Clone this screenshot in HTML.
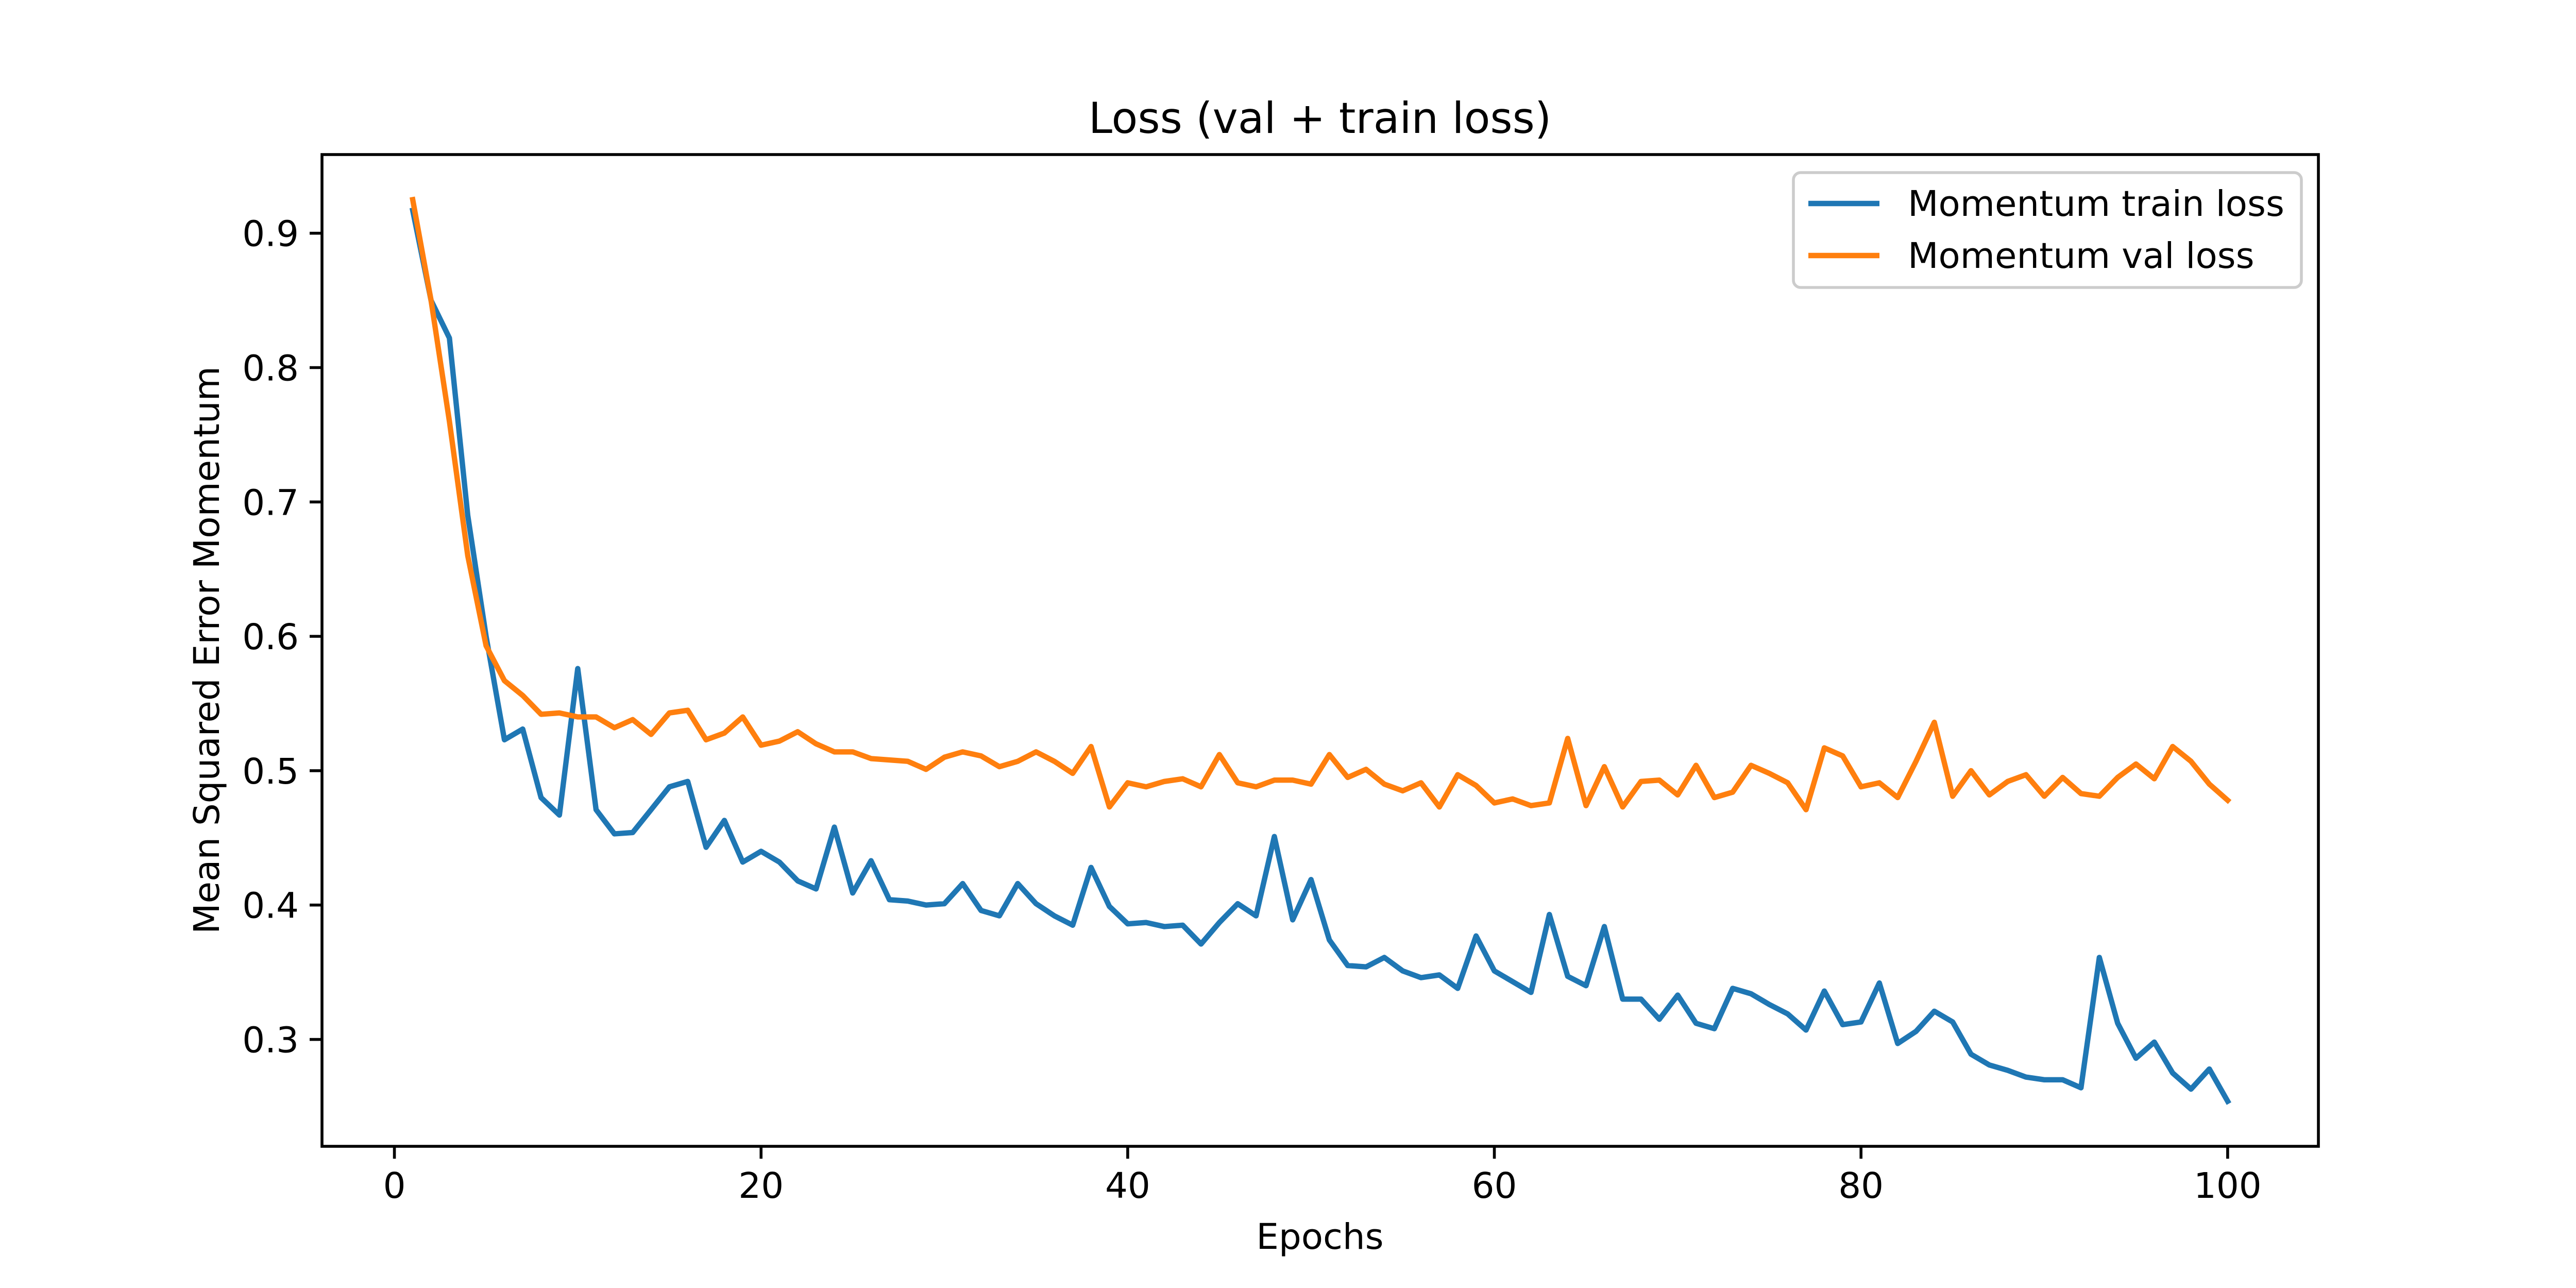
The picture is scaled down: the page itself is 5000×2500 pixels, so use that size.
<!DOCTYPE html>
<html><head><meta charset="utf-8"><style>
html,body{margin:0;padding:0;background:#fff}
svg{display:block;font-family:"DejaVu Sans","Liberation Sans",sans-serif}
</style></head><body>
<svg id="chart" width="5000" height="2500" viewBox="0 0 5000 2500" xmlns="http://www.w3.org/2000/svg">
<rect width="5000" height="2500" fill="#fff"/>
<text x="2562" y="258" font-size="83" text-anchor="middle">Loss (val + train loss)</text>
<g id="plot"></g>
<rect x="625" y="300" width="3875" height="1925" fill="none" stroke="#000" stroke-width="5.6"/>
<text x="2562" y="2424" font-size="69" text-anchor="middle">Epochs</text>
<text transform="translate(425,1262) rotate(-90)" font-size="69" text-anchor="middle">Mean Squared Error Momentum</text>
<g>
<rect x="3481" y="335" width="986" height="223" rx="14" fill="#fff" fill-opacity="0.8" stroke="#ccc" stroke-width="5.6"/>
<line x1="3510" y1="395" x2="3648" y2="395" stroke="#1f77b4" stroke-width="10.4"/>
<text x="3703" y="419" font-size="69">Momentum train loss</text>
<line x1="3510" y1="496" x2="3648" y2="496" stroke="#ff7f0e" stroke-width="10.4"/>
<text x="3703" y="520" font-size="69">Momentum val loss</text>
</g>
</svg>
<script>
const trainLoss=[0.917,0.85,0.822,0.69,0.60,0.523,0.531,0.48,0.467,0.576,0.471,0.453,0.454,0.471,0.488,0.492,0.443,0.463,0.432,0.440,0.432,0.418,0.412,0.458,0.409,0.433,0.404,0.403,0.400,0.401,0.416,0.396,0.392,0.416,0.401,0.392,0.385,0.428,0.399,0.386,0.387,0.384,0.385,0.371,0.387,0.401,0.392,0.451,0.389,0.419,0.374,0.355,0.354,0.361,0.351,0.346,0.348,0.338,0.377,0.351,0.343,0.335,0.393,0.347,0.340,0.384,0.330,0.330,0.315,0.333,0.312,0.308,0.338,0.334,0.326,0.319,0.307,0.336,0.311,0.313,0.342,0.297,0.306,0.321,0.313,0.289,0.281,0.277,0.272,0.270,0.270,0.264,0.361,0.312,0.286,0.298,0.275,0.263,0.278,0.254];
const valLoss=[0.925,0.85,0.76,0.66,0.593,0.567,0.556,0.542,0.543,0.540,0.540,0.532,0.538,0.527,0.543,0.545,0.523,0.528,0.540,0.519,0.522,0.529,0.520,0.514,0.514,0.509,0.508,0.507,0.501,0.510,0.514,0.511,0.503,0.507,0.514,0.507,0.498,0.518,0.473,0.491,0.488,0.492,0.494,0.488,0.512,0.491,0.488,0.493,0.493,0.490,0.512,0.495,0.501,0.490,0.485,0.491,0.473,0.497,0.489,0.476,0.479,0.474,0.476,0.524,0.474,0.503,0.473,0.492,0.493,0.482,0.504,0.480,0.484,0.504,0.498,0.491,0.471,0.517,0.511,0.488,0.491,0.480,0.507,0.536,0.481,0.500,0.482,0.492,0.497,0.481,0.495,0.483,0.481,0.495,0.505,0.494,0.518,0.507,0.490,0.478];
const xTicks=[0,20,40,60,80,100];
const yTicks=[0.3,0.4,0.5,0.6,0.7,0.8,0.9];

const NS="http://www.w3.org/2000/svg";
const L=625,R=4500,T=300,B=2225;
const epochs=trainLoss.map((_,i)=>i+1);
const all=trainLoss.concat(valLoss);
const dmin=Math.min(...all),dmax=Math.max(...all);
const xlo=1-0.05*(epochs.length-1),xhi=epochs.length+0.05*(epochs.length-1);
const ylo=dmin-0.05*(dmax-dmin),yhi=dmax+0.05*(dmax-dmin);
const xs=v=>L+(v-xlo)/(xhi-xlo)*(R-L);
const ys=v=>B-(v-ylo)/(yhi-ylo)*(B-T);
const g=document.getElementById('plot');
function el(tag,attrs){const e=document.createElementNS(NS,tag);for(const k in attrs)e.setAttribute(k,attrs[k]);g.appendChild(e);return e;}
xTicks.forEach(t=>{
  const x=xs(t);
  const tk=el('line',{x1:x,y1:B,x2:x,y2:B+24,stroke:'#000','stroke-width':5.6});
  
  
  const tx=el('text',{x:x,y:B+100,'font-size':69,'text-anchor':'middle'});
  tx.textContent=t;
  
  
});
yTicks.forEach(t=>{
  const y=ys(t);
  const tk=el('line',{x1:L-24,y1:y,x2:L,y2:y,stroke:'#000','stroke-width':5.6});
  
  
  const tx=el('text',{x:L-45,y:y+25,'font-size':69,'text-anchor':'end'});
  tx.textContent=t.toFixed(1);
  
  
});
function series(arr,color,name){
  const d=arr.map((v,i)=>(i?'L':'M')+xs(epochs[i]).toFixed(1)+' '+ys(v).toFixed(1)).join(' ');
  const p=el('path',{d:d,fill:'none',stroke:color,'stroke-width':10.4,'stroke-linejoin':'round','stroke-linecap':'square'});
  
  
}
series(trainLoss,'#1f77b4','train-loss-line');
series(valLoss,'#ff7f0e','val-loss-line');
</script>
</body></html>
